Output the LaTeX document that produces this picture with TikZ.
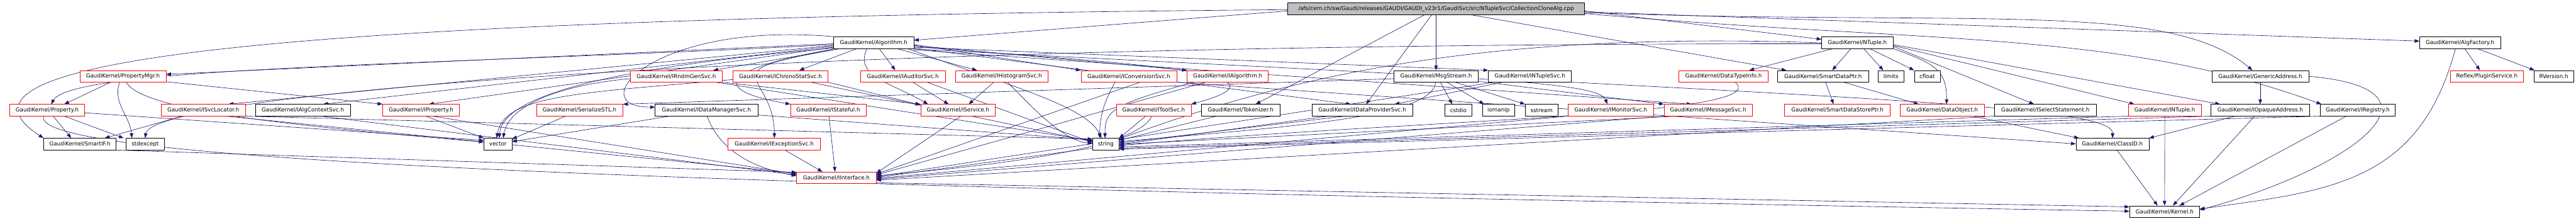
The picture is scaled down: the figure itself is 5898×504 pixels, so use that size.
\documentclass[tikz,border=0pt]{standalone}
\usepackage{fontspec}
\setmainfont{DejaVu Sans}
\usetikzlibrary{arrows.meta}
\definecolor{eblue}{RGB}{25,25,112}
\pgfdeclarelayer{bg}
\pgfsetlayers{bg,main}
\begin{document}
\begin{tikzpicture}[x=1pt,y=1pt,
  nd/.style={draw=black, line width=0.9pt, fill=white, inner sep=0pt, minimum height=26.5pt, font=\fontsize{12.6}{14}\selectfont, anchor=center},
  rd/.style={nd, draw=red},
  rt/.style={nd, fill=black!25},
  e/.style={draw=eblue, line width=0.9pt, -{Triangle[length=11pt,width=8pt]}}]
\useasboundingbox (0,0) rectangle (5898,504);
% row 0
\node[rt, minimum width=680pt] (root) at (3288,484) {/afs/cern.ch/sw/Gaudi/releases/GAUDI/GAUDI\_v23r1/GaudiSvc/src/NTupleSvc/CollectionCloneAlg.cpp};
% row 1
\node[nd, minimum width=183pt] (alg) at (2000.5,406.5) {GaudiKernel/Algorithm.h};
\node[nd, minimum width=163pt] (ntuple) at (4252.5,406.5) {GaudiKernel/NTuple.h};
\node[nd, minimum width=185pt] (algfac) at (5632.5,406.5) {GaudiKernel/AlgFactory.h};
% row 2
\node[rd, minimum width=197pt] (pmgr) at (281.5,329.5) {GaudiKernel/PropertyMgr.h};
\node[rd, minimum width=211pt] (rndm) at (1548.5,329.5) {GaudiKernel/IRndmGenSvc.h};
\node[rd, minimum width=218pt] (chrono) at (1787,329.5) {GaudiKernel/IChronoStatSvc.h};
\node[rd, minimum width=194pt] (auditor) at (2067,329.5) {GaudiKernel/IAuditorSvc.h};
\node[rd, minimum width=213pt] (histo) at (2293.5,329.5) {GaudiKernel/IHistogramSvc.h};
\node[rd, minimum width=219pt] (conv) at (2584.5,329.5) {GaudiKernel/IConversionSvc.h};
\node[rd, minimum width=186pt] (ialg) at (2811,329.5) {GaudiKernel/IAlgorithm.h};
\node[nd, minimum width=192pt] (msg) at (3288,329.5) {GaudiKernel/MsgStream.h};
\node[nd, minimum width=190pt] (ntsvc) at (3503,329.5) {GaudiKernel/INTupleSvc.h};
\node[rd, minimum width=204pt] (dti) at (3946,329.5) {GaudiKernel/DataTypeInfo.h};
\node[nd, minimum width=208pt] (sdp) at (4174,329.5) {GaudiKernel/SmartDataPtr.h};
\node[nd, minimum width=59pt] (limits) at (4329.5,329.5) {limits};
\node[nd, minimum width=59pt] (cfloat) at (4412.5,329.5) {cfloat};
\node[nd, minimum width=222pt] (gaddr) at (5175,329.5) {GaudiKernel/GenericAddress.h};
\node[rd, minimum width=168pt] (plugin) at (5694,329.5) {Reflex/PluginService.h};
\node[nd, minimum width=90pt] (rver) at (5847,329.5) {RVersion.h};
% row 3
\node[rd, minimum width=172pt] (prop) at (108,252) {GaudiKernel/Property.h};
\node[rd, minimum width=193pt] (svcloc) at (465.5,252) {GaudiKernel/ISvcLocator.h};
\node[nd, minimum width=217pt] (actx) at (693.5,252) {GaudiKernel/IAlgContextSvc.h};
\node[rd, minimum width=176pt] (iprop) at (964,252) {GaudiKernel/IProperty.h};
\node[rd, minimum width=198pt] (sstl) at (1327,252) {GaudiKernel/SerializeSTL.h};
\node[nd, minimum width=235pt] (dmgr) at (1617.5,252) {GaudiKernel/IDataManagerSvc.h};
\node[rd, minimum width=173pt] (stateful) at (1896.5,252) {GaudiKernel/IStateful.h};
\node[rd, minimum width=171pt] (iservice) at (2193.5,252) {GaudiKernel/IService.h};
\node[rd, minimum width=171pt] (toolsvc) at (2641.5,252) {GaudiKernel/IToolSvc.h};
\node[nd, minimum width=179pt] (tok) at (2840.5,252) {GaudiKernel/Tokenizer.h};
\node[nd, minimum width=230pt] (dps) at (3119,252) {GaudiKernel/IDataProviderSvc.h};
\node[nd, minimum width=62pt] (cstdio) at (3339,252) {cstdio};
\node[nd, minimum width=74pt] (iomanip) at (3431,252) {iomanip};
\node[nd, minimum width=75pt] (sstream) at (3529.5,252) {sstream};
\node[rd, minimum width=196pt] (monsvc) at (3688,252) {GaudiKernel/IMonitorSvc.h};
\node[rd, minimum width=202pt] (msgsvc) at (3911,252) {GaudiKernel/IMessageSvc.h};
\node[rd, minimum width=242pt] (sdsp) at (4207,252) {GaudiKernel/SmartDataStorePtr.h};
\node[rd, minimum width=192pt] (dobj) at (4447,252) {GaudiKernel/DataObject.h};
\node[nd, minimum width=232pt] (selst) at (4683,252) {GaudiKernel/ISelectStatement.h};
\node[rd, minimum width=167pt] (intuple) at (4956.5,252) {GaudiKernel/INTuple.h};
\node[nd, minimum width=226pt] (opaddr) at (5175,252) {GaudiKernel/IOpaqueAddress.h};
\node[nd, minimum width=172pt] (ireg) at (5398,252) {GaudiKernel/IRegistry.h};
% row 4
\node[nd, minimum width=166pt] (smartif) at (183,174.5) {GaudiKernel/SmartIF.h};
\node[nd, minimum width=87pt] (stdexc) at (332.5,174.5) {stdexcept};
\node[nd, minimum width=64pt] (vector) at (1140,174.5) {vector};
\node[rd, minimum width=211pt] (excsvc) at (1772.5,174.5) {GaudiKernel/IExceptionSvc.h};
\node[nd, minimum width=60pt] (string) at (2532,174.5) {string};
\node[nd, minimum width=167pt] (classid) at (4836.5,174.5) {GaudiKernel/ClassID.h};
% row 5, 6
\node[rd, minimum width=182pt] (iface) at (1915,97.5) {GaudiKernel/IInterface.h};
\node[nd, minimum width=160pt] (kernel) at (4956,20) {GaudiKernel/Kernel.h};

\begin{pgfonlayer}{bg}
\fill[white] (0,0) rectangle (5898,504);
% root
\draw[e] (root.west |- 0,479) -- (alg.east |- 0,412);
\draw[e] (root.east |- 0,479) -- (ntuple.west |- 0,414);
\draw[e] (root.east |- 0,477) -- (algfac.west |- 0,410);
\draw[e] (root.south) -- (msg.north);
\draw[e] (root.south -| 3278,0) -- (dps.north -| 3128,0);
\draw[e] (root.south -| 3262,0) -- (tok.north -| 2875,0);
\draw[e] (root.south -| 3367,0) -- (sdp.north -| 4090,0);
\draw[e] (root.east |- 0,475) .. controls +(-2:900pt) and +(140:250pt) .. (gaddr.north -| 5157,0);
\draw[e] (root.east |- 0,473) .. controls +(-5:800pt) and +(160:500pt) .. (ireg.north -| 5315,0);
\draw[e] (root.west |- 0,482) .. controls +(180.5:2148pt) and +(147:358pt) .. (smartif.north west);
% Algorithm
\draw[e] (alg.north west) .. controls +(175:420pt) and +(180:170pt) .. (dmgr.west |- 0,259);
\draw[e] (alg.west |- 0,404) -- (pmgr.east |- 0,334);
\draw[e] (alg.west |- 0,402) .. controls +(183:900pt) and +(60:100pt) .. (prop.north -| 117,0);
\draw[e] (alg.west |- 0,400) -- (svcloc.north -| 523,0);
\draw[e] (alg.west |- 0,398) -- (actx.north -| 740,0);
\draw[e] (alg.west |- 0,396) -- (iprop.north -| 982,0);
\draw[e] (alg.west |- 0,394) .. controls +(185:500pt) and +(85:100pt) .. (vector.north -| 1143,0);
\draw[e] (alg.west |- 0,392) .. controls +(190:250pt) and +(170:200pt) .. (stateful.north west);
\draw[e] (alg.west |- 0,390) .. controls +(190:300pt) and +(90:150pt) .. (excsvc.north -| 1773,0);
\draw[e] (alg.south -| 1925,0) -- (rndm.north -| 1633,0);
\draw[e] (alg.south -| 1962,0) -- (chrono.north -| 1830,0);
\draw[e] (alg.south -| 1985,0) .. controls +(-115:70pt) and +(150:100pt) .. (iservice.north -| 2125,0);
\draw[e] (alg.south -| 2013,0) -- (auditor.north -| 2050,0);
\draw[e] (alg.south -| 2053,0) -- (histo.north -| 2237,0);
\draw[e] (alg.south -| 2078,0) .. controls +(-20:250pt) and +(115:80pt) .. (string.north -| 2522,0);
\draw[e] (alg.east |- 0,402) -- (conv.north west);
\draw[e] (alg.east |- 0,400) -- (ialg.north west);
\draw[e] (alg.east |- 0,398) .. controls +(-5:400pt) and +(15:300pt) .. (toolsvc.north east);
\draw[e] (alg.east |- 0,396) -- (ntsvc.north west);
\draw[e] (alg.east |- 0,394) -- (dps.north -| 3093,0);
\draw[e] (alg.east |- 0,392) .. controls +(-3:1200pt) and +(110:60pt) .. (monsvc.north -| 3680,0);
\draw[e] (alg.east |- 0,390) -- (msgsvc.north -| 3873,0);
% PropertyMgr
\draw[e] (pmgr.south -| 253,0) -- (prop.north -| 147,0);
\draw[e] (pmgr.south -| 274,0) .. controls +(-110:50pt) and +(95:50pt) .. (stdexc.north -| 302,0);
\draw[e] (pmgr.east |- 0,317) -- (iprop.north west);
\draw[e] (pmgr.south -| 289,0) .. controls +(-60:80pt) and +(175:400pt) .. (vector.west |- 0,179);
% Property
\draw[e] (prop.south -| 122,0) -- (smartif.north -| 163,0);
\draw[e] (prop.south -| 147,0) -- (stdexc.north -| 283,0);
\draw[e] (prop.east |- 0,246) -- (vector.west |- 0,183);
\draw[e] (prop.south -| 100,0) .. controls +(-110:120pt) and +(179:3000pt) .. (kernel.west |- 0,21);
% ISvcLocator
\draw[e] (svcloc.south -| 417,0) -- (smartif.north -| 240,0);
\draw[e] (svcloc.south -| 517,0) -- (iface.west |- 0,108);
\draw[e] (svcloc.south east) -- (string.west |- 0,186);
% IAlgContextSvc, IProperty, SmartIF
\draw[e] (actx.south -| 735,0) -- (iface.west |- 0,104);
\draw[e] (iprop.south -| 975,0) -- (vector.north west);
\draw[e] (iprop.south -| 990,0) -- (iface.west |- 0,106);
\draw[e] (smartif.south east) -- (iface.west |- 0,110);
% SerializeSTL
\draw[e] (sstl.south -| 1295,0) -- (vector.east |- 0,186);
% IDataManagerSvc
\draw[e] (dmgr.south -| 1619,0) .. controls +(-70:90pt) and +(170:90pt) .. (iface.west |- 0,102);
\draw[e] (dmgr.east |- 0,241) -- (string.west |- 0,184);
\draw[e] (dmgr.south -| 1533,0) -- (vector.east |- 0,180);
% IStateful, IExceptionSvc
\draw[e] (stateful.south -| 1898,0) -- (iface.north -| 1912,0);
\draw[e] (excsvc.south -| 1797,0) -- (iface.north -| 1883,0);
% IRndmGenSvc
\draw[e] (rndm.south east) -- (iservice.north west);
\draw[e] (rndm.west |- 0,324) .. controls +(185:150pt) and +(80:80pt) .. (vector.north -| 1152,0);
\draw[e] (rndm.south -| 1640,0) -- (string.west |- 0,182);
% IChronoStatSvc
\draw[e] (chrono.south east) -- (iservice.west |- 0,264);
\draw[e] (chrono.south -| 1857,0) -- (string.west |- 0,180);
\draw[e] (chrono.west |- 0,322) .. controls +(185:350pt) and +(80:100pt) .. (vector.north -| 1137,0);
% IAuditorSvc, IHistogramSvc
\draw[e] (auditor.south -| 2090,0) -- (iservice.north -| 2172,0);
\draw[e] (auditor.south -| 2123,0) -- (string.west |- 0,178);
\draw[e] (histo.south -| 2275,0) -- (iservice.north -| 2218,0);
\draw[e] (histo.south -| 2307,0) .. controls +(-45:70pt) and +(175:70pt) .. (string.west |- 0,176);
% IService
\draw[e] (iservice.south -| 2200,0) -- (iface.east |- 0,108);
% IConversionSvc
\draw[e] (conv.south -| 2553,0) .. controls +(-120:50pt) and +(90:50pt) .. (string.north -| 2518,0);
\draw[e] (conv.south -| 2610,0) -- (iface.east |- 0,106);
\draw[e] (conv.south east) -- (classid.west |- 0,175);
% IAlgorithm
\draw[e] (ialg.south -| 2733,0) .. controls +(-165:200pt) and +(90:60pt) .. (string.north -| 2530,0);
\draw[e] (ialg.south -| 2760,0) -- (iface.east |- 0,104);
% IToolSvc
\draw[e] (toolsvc.south -| 2623,0) -- (string.north east);
\draw[e] (toolsvc.south -| 2637,0) .. controls +(-115:80pt) and +(5:300pt) .. (iface.east |- 0,102);
% Tokenizer
\draw[e] (tok.south -| 2785,0) -- (string.east |- 0,183);
% MsgStream
\draw[e] (msg.south -| 3298,0) -- (cstdio.north -| 3325,0);
\draw[e] (msg.south -| 3313,0) -- (iomanip.north -| 3398,0);
\draw[e] (msg.south -| 3332,0) -- (sstream.north west);
\draw[e] (msg.south -| 3287,0) .. controls +(-95:80pt) and +(5:400pt) .. (string.east |- 0,180);
\draw[e] (msg.east |- 0,318) -- (msgsvc.north west);
\draw[e] (msg.west |- 0,324) -- (sstl.north east);
% INTupleSvc
\draw[e] (ntsvc.south -| 3440,0) -- (dps.north -| 3193,0);
\draw[e] (ntsvc.east |- 0,316) .. controls +(-3:900pt) and +(90:60pt) .. (classid.north -| 4837,0);
\draw[e] (ntsvc.south -| 3420,0) -- (iface.east |- 0,100);
% IDataProviderSvc, IMonitorSvc, IMessageSvc
\draw[e] (dps.south -| 3040,0) -- (iface.east |- 0,98);
\draw[e] (dps.south -| 3079,0) -- (string.east |- 0,177);
\draw[e] (monsvc.south west) -- (iface.east |- 0,96);
\draw[e] (msgsvc.south west) -- (iface.east |- 0,94);
\draw[e] (msgsvc.south -| 3840,0) -- (string.east |- 0,174);
% DataTypeInfo
\draw[e] (dti.south -| 3973,0) .. controls +(-40:120pt) and +(5:700pt) .. (string.east |- 0,171);
% SmartDataPtr
\draw[e] (sdp.south -| 4180,0) -- (sdsp.north -| 4198,0);
\draw[e] (sdp.south -| 4222,0) -- (dobj.north -| 4393,0);
% NTuple
\draw[e] (ntuple.south -| 4197,0) -- (dti.north -| 4005,0);
\draw[e] (ntuple.south -| 4238,0) -- (sdp.north -| 4195,0);
\draw[e] (ntuple.south -| 4267,0) -- (limits.north -| 4312,0);
\draw[e] (ntuple.south -| 4281,0) -- (cfloat.north west);
\draw[e] (ntuple.south east) .. controls +(-20:100pt) and +(90:80pt) .. (dobj.north -| 4457,0);
\draw[e] (ntuple.east |- 0,398) -- (selst.north -| 4657,0);
\draw[e] (ntuple.east |- 0,400) -- (intuple.north -| 4887,0);
\draw[e] (ntuple.east |- 0,402) -- (opaddr.north -| 5083,0);
\draw[e] (ntuple.west |- 0,406) .. controls +(178:800pt) and +(20:400pt) .. (string.east |- 0,186);
\draw[e] (ntuple.west |- 0,404) .. controls +(180:2500pt) and +(80:100pt) .. (stdexc.north -| 332,0);
% DataObject, ISelectStatement, INTuple
\draw[e] (dobj.south -| 4517,0) -- (classid.north -| 4760,0);
\draw[e] (selst.south west) -- (iface.east |- 0,92);
\draw[e] (intuple.south) -- (kernel.north);
\draw[e] (intuple.south west) -- (string.east |- 0,168);
% IOpaqueAddress, IRegistry
\draw[e] (opaddr.south -| 5117,0) -- (classid.north east);
\draw[e] (opaddr.south -| 5162,0) -- (kernel.north -| 4975,0);
\draw[e] (opaddr.south west) -- (string.east |- 0,165);
\draw[e] (ireg.south -| 5372,0) -- (kernel.north -| 4990,0);
\draw[e] (ireg.south west) -- (string.east |- 0,163);
% GenericAddress, AlgFactory, ClassID, IInterface
\draw[e] (gaddr.south) -- (opaddr.north);
\draw[e] (gaddr.east) .. controls +(-5:350pt) and +(15:350pt) .. (kernel.east |- 0,24);
\draw[e] (algfac.south -| 5643,0) -- (plugin.north -| 5678,0);
\draw[e] (algfac.south -| 5672,0) -- (rver.north -| 5803,0);
\draw[e] (algfac.south -| 5622,0) .. controls +(-105:320pt) and +(8:300pt) .. (kernel.east |- 0,26);
\draw[e] (classid.south -| 4847,0) -- (kernel.north -| 4940,0);
\draw[e] (iface.east |- 0,86) -- (kernel.west |- 0,31);
\end{pgfonlayer}
\end{tikzpicture}
\end{document}
